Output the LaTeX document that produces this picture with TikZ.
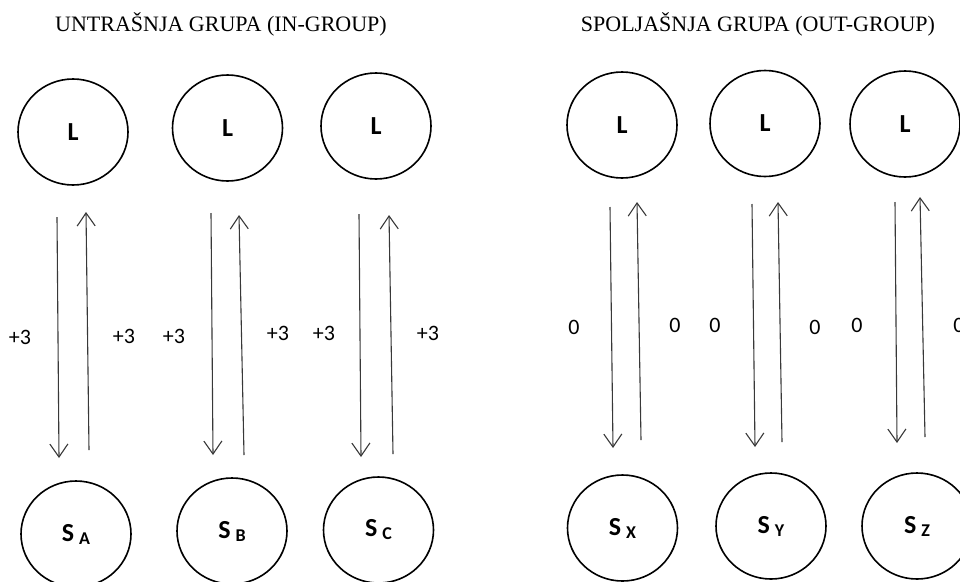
\documentclass[tikz,border=0pt]{standalone}
\usepackage{fontspec}
\setmainfont{Liberation Serif}
\newfontfamily\labfont{Carlito}
\usetikzlibrary{shapes.geometric,arrows.meta}
\newcommand\Ssub[1]{S\hspace{5pt}\raisebox{-3pt}{\fontsize{18}{18}\selectfont #1}}
\begin{document}
\begin{tikzpicture}[x=1pt,y=-1pt,
  circ/.style={ellipse,draw,line width=1.6pt,minimum width=110pt,minimum height=106pt,inner sep=0pt,
    font=\labfont\fontsize{26}{26}\selectfont\bfseries},
  arr/.style={draw=black!78,line width=1.1pt,-{Straight Barb[length=13pt,width=18pt,line width=1.1pt]}},
  lbl/.style={font=\labfont\fontsize{22}{22}\selectfont,inner sep=0pt},
  ttl/.style={font=\fontsize{22}{22}\selectfont,inner sep=0pt,anchor=base}]
\useasboundingbox (0,0) rectangle (960,581);

% titles
\node[ttl] (t1) at (221,31) {UNTRAŠNJA GRUPA (IN-GROUP)};
\node[ttl] (t2) at (758,31) {SPOLJAŠNJA GRUPA (OUT-GROUP)};

% top circles
\node[circ] (L1) at (73,132) {L};
\node[circ] (L2) at (227.5,128) {L};
\node[circ] (L3) at (376,126) {L};
\node[circ] (L4) at (622,125) {L};
\node[circ] (L5) at (765,123.5) {L};
\node[circ] (L6) at (905,124) {L};

% bottom circles
\node[circ] (SA) at (76,534) {\Ssub{A}};
\node[circ] (SB) at (232,531) {\Ssub{B}};
\node[circ] (SC) at (378.5,530) {\Ssub{C}};
\node[circ] (SX) at (622.5,528) {\Ssub{X}};
\node[circ] (SY) at (771,526) {\Ssub{Y}};
\node[circ] (SZ) at (917,526) {\Ssub{Z}};

% arrow end points
\coordinate (a1t) at (57,217);  \coordinate (a1b) at (59,458);
\coordinate (a2b) at (89,450);  \coordinate (a2t) at (86,212);
\coordinate (b1t) at (211,213); \coordinate (b1b) at (213,455);
\coordinate (b2b) at (244,455); \coordinate (b2t) at (239,215);
\coordinate (c1t) at (359,214); \coordinate (c1b) at (361,457);
\coordinate (c2b) at (393,454); \coordinate (c2t) at (389,215);
\coordinate (x1t) at (610,207); \coordinate (x1b) at (613,448);
\coordinate (x2b) at (641,440); \coordinate (x2t) at (637,202);
\coordinate (y1t) at (752,204); \coordinate (y1b) at (755,447);
\coordinate (y2b) at (782,442); \coordinate (y2t) at (778,202);
\coordinate (z1t) at (895,202); \coordinate (z1b) at (897,443);
\coordinate (z2b) at (925,437); \coordinate (z2t) at (920,197);

\draw[arr] (a1t) -- (a1b);
\draw[arr] (a2b) -- (a2t);
\draw[arr] (b1t) -- (b1b);
\draw[arr] (b2b) -- (b2t);
\draw[arr] (c1t) -- (c1b);
\draw[arr] (c2b) -- (c2t);
\draw[arr] (x1t) -- (x1b);
\draw[arr] (x2b) -- (x2t);
\draw[arr] (y1t) -- (y1b);
\draw[arr] (y2b) -- (y2t);
\draw[arr] (z1t) -- (z1b);
\draw[arr] (z2b) -- (z2t);

% labels
\node[lbl] (la1) at (20,337) {+3};
\node[lbl] (la2) at (124,336) {+3};
\node[lbl] (lb1) at (174,336) {+3};
\node[lbl] (lb2) at (278,333) {+3};
\node[lbl] (lc1) at (324,333) {+3};
\node[lbl] (lc2) at (428,333) {+3};
\node[lbl] (lx1) at (574,327) {0};
\node[lbl] (lx2) at (675,325) {0};
\node[lbl] (ly1) at (715,325) {0};
\node[lbl] (ly2) at (815,327) {0};
\node[lbl] (lz1) at (857,325) {0};
\node[lbl] (lz2) at (959,325) {0};
\end{tikzpicture}
\end{document}
